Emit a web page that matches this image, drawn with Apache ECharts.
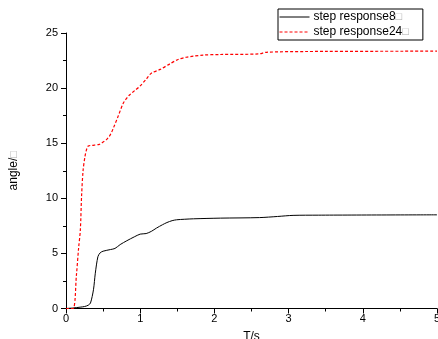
<!DOCTYPE html>
<html>
<head>
<meta charset="utf-8">
<script src="https://cdn.jsdelivr.net/npm/echarts@6/dist/echarts.min.js"></script>
<style>
  html, body { margin: 0; padding: 0; background: #fff; }
  #chart { width: 438px; height: 339px; }
</style>
</head>
<body>
<div id="chart"></div>
<script>
// step response 8: time (s) and angle
const timeResp8 = [0, 0.1, 0.19, 0.25, 0.3, 0.33, 0.37, 0.395, 0.43, 0.46, 0.5, 0.6, 0.66, 0.73, 0.82, 0.92, 1.0, 1.08, 1.15, 1.22, 1.3, 1.36, 1.43, 1.49, 1.6, 1.72, 2.08, 2.61, 2.85, 3.06, 3.4, 5.0];
const angleResp8 = [0, 0.05, 0.12, 0.18, 0.3, 0.5, 1.7, 3.2, 4.7, 5.05, 5.2, 5.35, 5.45, 5.8, 6.15, 6.5, 6.75, 6.8, 7.0, 7.3, 7.6, 7.8, 7.97, 8.05, 8.1, 8.14, 8.2, 8.25, 8.35, 8.45, 8.47, 8.5];

// step response 24: time (s) and angle
const timeResp24 = [0, 0.094, 0.14, 0.17, 0.193, 0.21, 0.23, 0.256, 0.28, 0.3, 0.35, 0.45, 0.5, 0.55, 0.6, 0.64, 0.7, 0.77, 0.82, 0.86, 0.93, 1.0, 1.08, 1.15, 1.27, 1.4, 1.51, 1.62, 1.72, 1.85, 2.08, 2.6, 2.7, 3.24, 5.0];
const angleResp24 = [0, 0, 3.0, 5.5, 7.1, 10.2, 12.5, 13.8, 14.5, 14.75, 14.8, 14.9, 15.1, 15.35, 15.8, 16.4, 17.4, 18.6, 19.1, 19.4, 19.8, 20.2, 20.8, 21.35, 21.7, 22.2, 22.6, 22.8, 22.9, 23.0, 23.05, 23.1, 23.25, 23.32, 23.35];

const seriesNames = ['step response8', 'step response24'];

const pairs = (xs, ys) => xs.map((x, i) => [x, ys[i]]);
const font = "'Liberation Sans', Arial, sans-serif";

const chart = echarts.init(document.getElementById('chart'));
chart.setOption({
  backgroundColor: '#fff',
  animation: false,
  grid: { left: 66, right: 1, top: 33, bottom: 30.5, containLabel: false, outerBoundsMode: 'none' },
  legend: {
    orient: 'vertical',
    left: 278,
    top: 9,
    itemWidth: 30,
    itemHeight: 12,
    itemGap: 3,
    padding: [2, 14, 2, 1],
    borderColor: '#000',
    borderWidth: 1,
    itemStyle: { opacity: 0 },
    lineStyle: { width: 1 },
    formatter: n => n + '{g|\u25a1}',
    textStyle: {
      fontFamily: font, fontSize: 12, color: '#000', padding: [0, 0, 0, -1],
      rich: { g: { fontFamily: font, fontSize: 11, color: '#aaa' } }
    }
  },
  xAxis: {
    type: 'value',
    min: 0, max: 5, interval: 1,
    name: 'T/s',
    nameLocation: 'middle',
    nameGap: 22,
    nameTextStyle: { fontFamily: font, fontSize: 12, color: '#000' },
    axisLine: { lineStyle: { color: '#000', width: 1 } },
    axisTick: { length: 5, lineStyle: { color: '#000' } },
    minorTick: { show: true, splitNumber: 2, length: 3, lineStyle: { color: '#000' } },
    axisLabel: { fontFamily: font, fontSize: 11, color: '#000', margin: 5 },
    splitLine: { show: false }
  },
  yAxis: {
    type: 'value',
    min: 0, max: 25, interval: 5,
    name: 'angle/{g|\u25a1}',
    nameLocation: 'middle',
    nameGap: 46,
    nameTextStyle: {
      fontFamily: font, fontSize: 12, color: '#000',
      rich: { g: { fontFamily: font, fontSize: 11, color: '#aaa' } }
    },
    axisLine: { show: true, lineStyle: { color: '#000', width: 1 } },
    axisTick: { show: true, length: 5, lineStyle: { color: '#000' } },
    minorTick: { show: true, splitNumber: 2, length: 3, lineStyle: { color: '#000' } },
    axisLabel: { fontFamily: font, fontSize: 11, color: '#000', margin: 8 },
    splitLine: { show: false }
  },
  series: [
    {
      name: seriesNames[0],
      type: 'line',
      data: pairs(timeResp8, angleResp8),
      showSymbol: false,
      symbol: 'none',
      smooth: 0.3,
      lineStyle: { color: '#000', width: 1 },
      itemStyle: { color: '#000' }
    },
    {
      name: seriesNames[1],
      type: 'line',
      data: pairs(timeResp24, angleResp24),
      showSymbol: false,
      symbol: 'none',
      smooth: 0.3,
      lineStyle: { color: '#ff0000', width: 1.2, type: [3, 2] },
      itemStyle: { color: '#ff0000' }
    }
  ]
});
</script>
</body>
</html>
